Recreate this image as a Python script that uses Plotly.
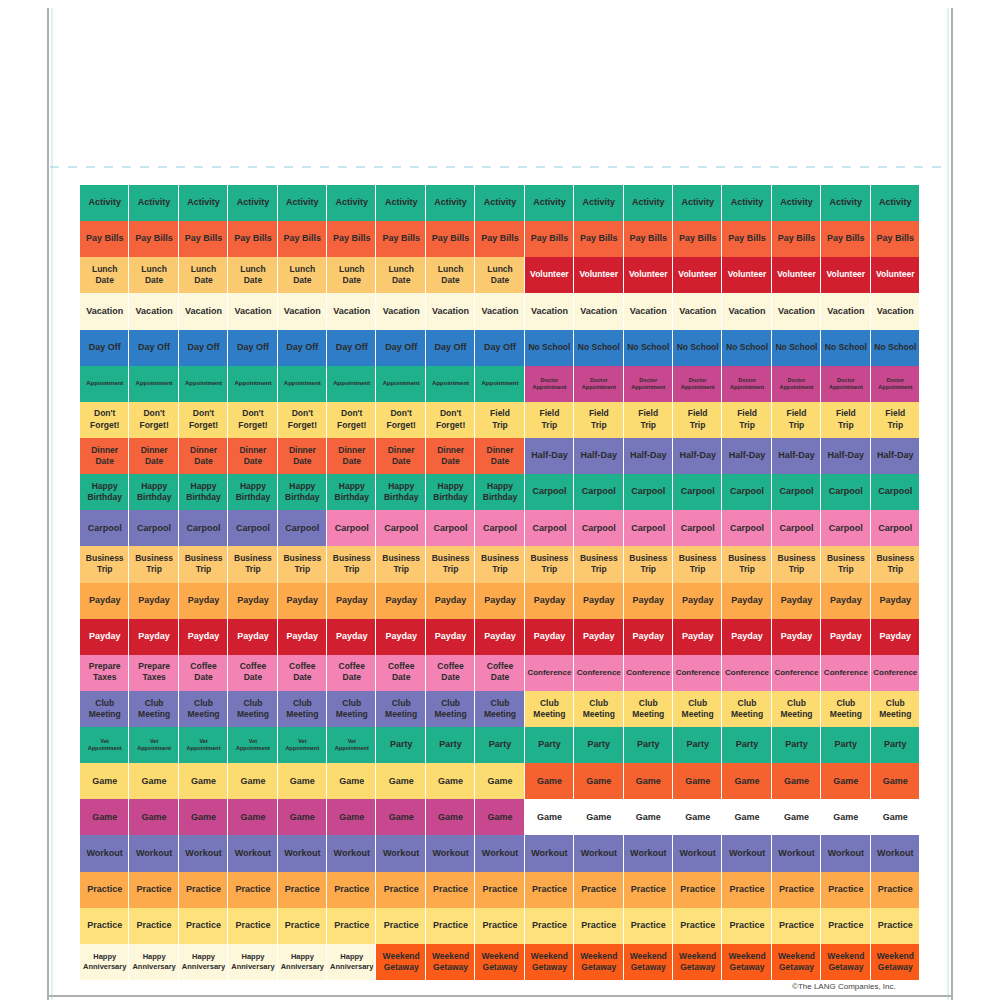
import plotly.graph_objects as go

# sticker sheet: each row is a list of (count, label, colour name)
palette = {
    'teal': '#1fb08c', 'redorange': '#f5633c', 'lunch': '#fbca70', 'red': '#d11f2f',
    'cream': '#fdf7dc', 'blue': '#2f7dc6', 'magenta': '#c8488f', 'yellow': '#fcdc70',
    'purple': '#7677bb', 'pink': '#f383b4', 'bizyellow': '#fcc970', 'orange': '#fcaa4c',
    'lightyellow': '#fde27c', 'white': '#ffffff', 'getaway': '#fa5b19', 'gameorange': '#f5612f',
}
rows = [
    [(17, 'Activity', 'teal')],
    [(17, 'Pay Bills', 'redorange')],
    [(9, 'Lunch<br>Date', 'lunch'), (8, 'Volunteer', 'red')],
    [(17, 'Vacation', 'cream')],
    [(9, 'Day Off', 'blue'), (8, 'No School', 'blue')],
    [(9, 'Appointment', 'teal'), (8, 'Doctor<br>Appointment', 'magenta')],
    [(8, "Don't<br>Forget!", 'yellow'), (9, 'Field<br>Trip', 'yellow')],
    [(9, 'Dinner<br>Date', 'redorange'), (8, 'Half-Day', 'purple')],
    [(9, 'Happy<br>Birthday', 'teal'), (8, 'Carpool', 'teal')],
    [(5, 'Carpool', 'purple'), (12, 'Carpool', 'pink')],
    [(17, 'Business<br>Trip', 'bizyellow')],
    [(17, 'Payday', 'orange')],
    [(17, 'Payday', 'red')],
    [(2, 'Prepare<br>Taxes', 'pink'), (7, 'Coffee<br>Date', 'pink'), (8, 'Conference', 'pink')],
    [(9, 'Club<br>Meeting', 'purple'), (8, 'Club<br>Meeting', 'yellow')],
    [(6, 'Vet<br>Appointment', 'teal'), (11, 'Party', 'teal')],
    [(9, 'Game', 'yellow'), (8, 'Game', 'gameorange')],
    [(9, 'Game', 'magenta'), (8, 'Game', 'white')],
    [(17, 'Workout', 'purple')],
    [(17, 'Practice', 'orange')],
    [(17, 'Practice', 'lightyellow')],
    [(6, 'Happy<br>Anniversary', 'cream'), (11, 'Weekend<br>Getaway', 'getaway')],
]
white_text = {'red'}
small_labels = {'Appointment': 6, 'Doctor<br>Appointment': 5.5, 'Vet<br>Appointment': 5.5,
                'Conference': 8, 'No School': 8.5, 'Volunteer': 8.5,
                'Happy<br>Anniversary': 7.5}

names = list(palette)
ncol = 17
z, cx, cy, ctext, csize, ccol = [], [], [], [], [], []
for r, row in enumerate(rows):
    zr = []
    for count, label, cname in row:
        for _ in range(count):
            c = len(zr)
            zr.append(names.index(cname) + 0.5)
            cx.append(c + 0.5)
            cy.append(r + 0.5)
            ctext.append('<b>' + label + '</b>')
            base = 8.5 if '<br>' in label else 9
            csize.append(small_labels.get(label, base))
            ccol.append('#ffffff' if cname in white_text else '#2b2b2b')
    z.append(zr)

n = len(names)
cscale = []
for i, nm in enumerate(names):
    cscale.append([i / n, palette[nm]])
    cscale.append([(i + 1) / n, palette[nm]])

fig = go.Figure()
fig.add_trace(go.Heatmap(
    z=z, x=[c + 0.5 for c in range(ncol)], y=[r + 0.5 for r in range(len(rows))],
    colorscale=cscale, zmin=0, zmax=n, showscale=False, hoverinfo='skip',
    xgap=1, ygap=0,
))
fig.add_trace(go.Scatter(
    x=cx, y=cy, text=ctext, mode='text', hoverinfo='skip',
    textfont=dict(family='Liberation Sans', size=csize, color=ccol),
))

fig.update_layout(
    width=1000, height=1000, margin=dict(l=0, r=0, t=0, b=0),
    paper_bgcolor='white', plot_bgcolor='white', showlegend=False,
    xaxis=dict(range=[0, ncol], domain=[0.072, 0.912], visible=False, fixedrange=True),
    yaxis=dict(range=[len(rows), 0], domain=[0.028, 0.823], visible=False, fixedrange=True),
    shapes=[
        dict(type='line', xref='paper', yref='paper', x0=0.040, x1=0.040, y0=0, y1=1,
             line=dict(color='#b0b0b0', width=2)),
        dict(type='line', xref='paper', yref='paper', x0=0.044, x1=0.044, y0=0, y1=1,
             line=dict(color='#bfe3ee', width=1)),
        dict(type='line', xref='paper', yref='paper', x0=0.940, x1=0.940, y0=0, y1=1,
             line=dict(color='#bfe3ee', width=1)),
        dict(type='line', xref='paper', yref='paper', x0=0.944, x1=0.944, y0=0, y1=1,
             line=dict(color='#b0b0b0', width=2)),
        dict(type='line', xref='paper', yref='paper', x0=0.042, x1=0.942, y0=0.841, y1=0.841,
             line=dict(color='#8fd0e0', width=1, dash='dash')),
        dict(type='line', xref='paper', yref='paper', x0=0.040, x1=0.944, y0=0.012, y1=0.012,
             line=dict(color='#b0b0b0', width=2)),
    ],
    annotations=[dict(text='©The LANG Companies, Inc.', xref='paper', yref='paper',
                      x=0.890, y=0.022, xanchor='right', yanchor='middle', showarrow=False,
                      font=dict(family='Liberation Sans', size=8, color='#444'))],
)
fig.write_html('out.html')
